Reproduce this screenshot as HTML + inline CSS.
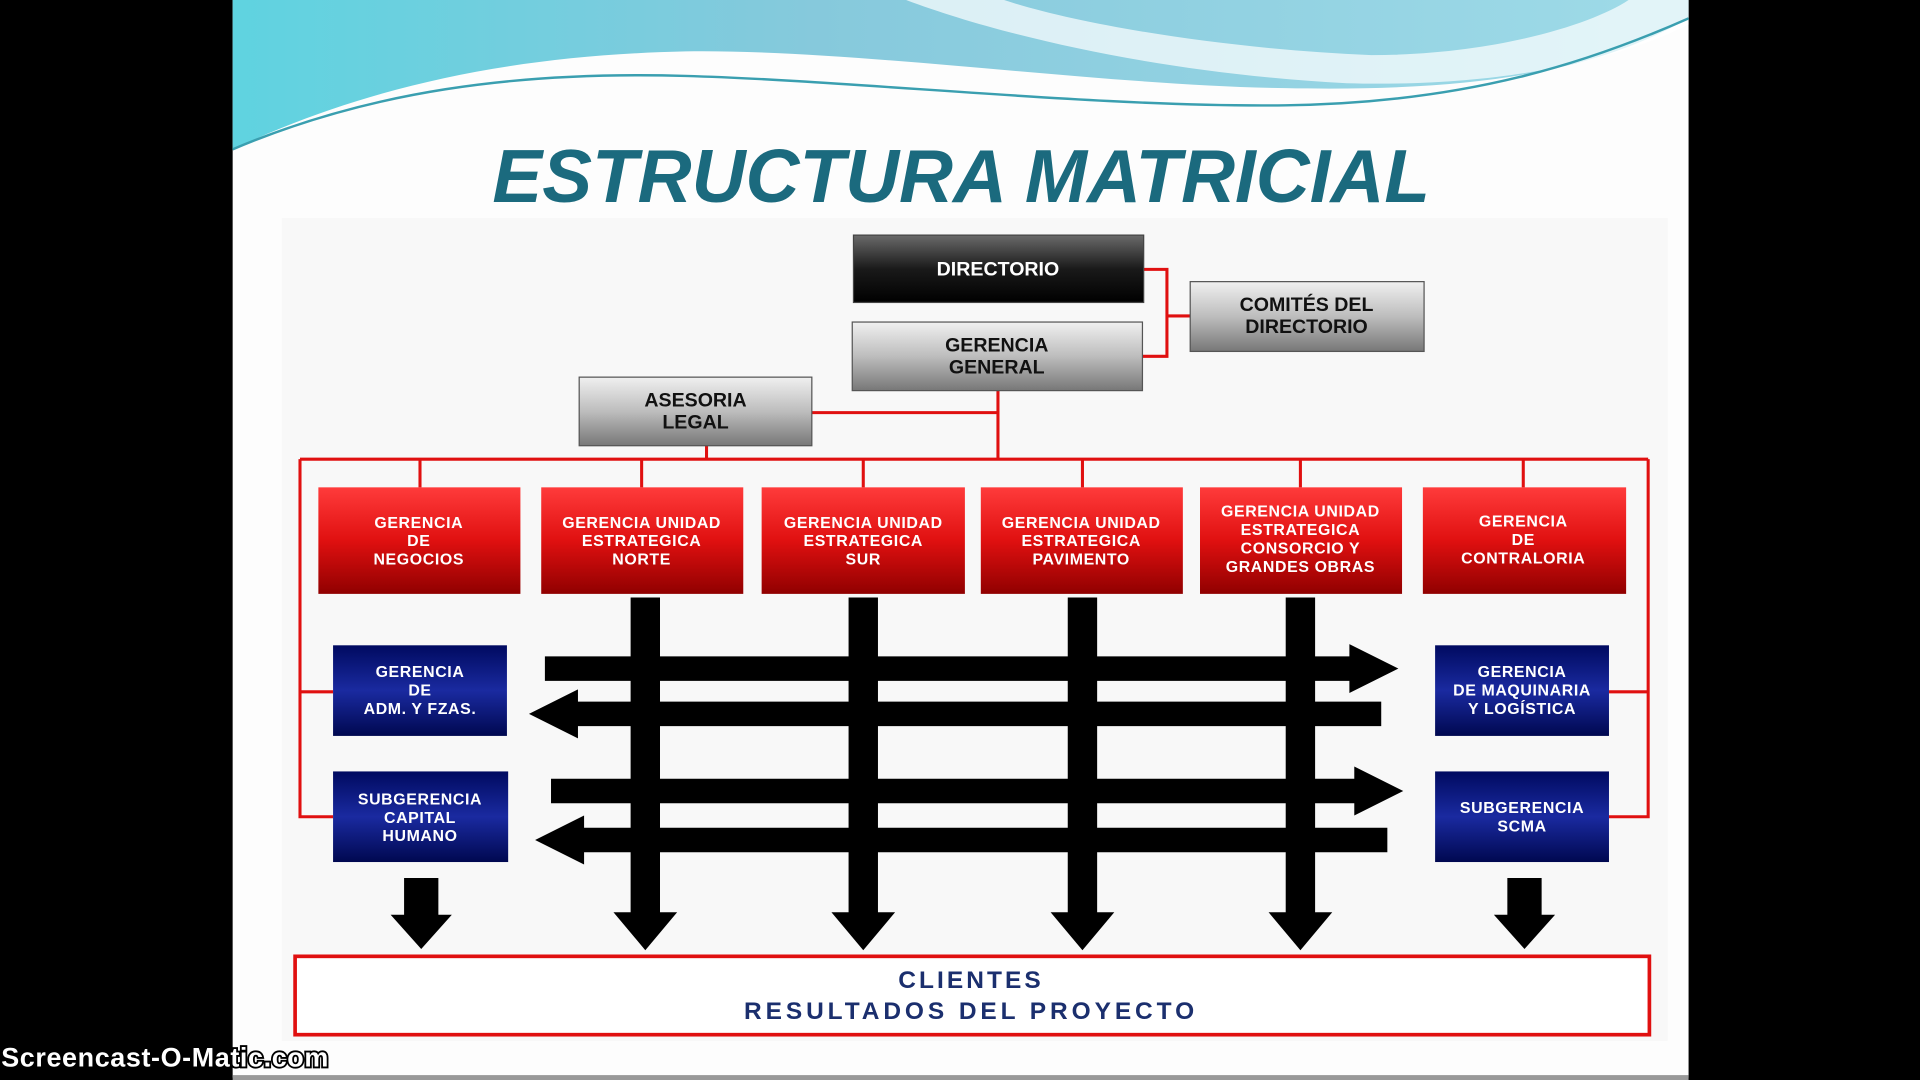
<!DOCTYPE html>
<html><head><meta charset="utf-8"><style>html,body{margin:0;padding:0;background:#000;width:1920px;height:1080px;overflow:hidden}svg{display:block}</style></head>
<body>
<svg width="1920" height="1080" viewBox="0 0 1568 882" xmlns="http://www.w3.org/2000/svg" font-family="Liberation Sans, sans-serif">
<defs>
<linearGradient id="sky" x1="0" y1="0" x2="1" y2="0"><stop offset="0" stop-color="#5fd3e0"/><stop offset="0.4" stop-color="#86c9dc"/><stop offset="1" stop-color="#9fdbe8"/></linearGradient>
<linearGradient id="dark" x1="0" y1="0" x2="0" y2="1"><stop offset="0" stop-color="#6a6a6a"/><stop offset="0.5" stop-color="#1a1a1a"/><stop offset="1" stop-color="#000"/></linearGradient>
<linearGradient id="gray" x1="0" y1="0" x2="0" y2="1"><stop offset="0" stop-color="#f0f0f0"/><stop offset="0.5" stop-color="#bdbdbd"/><stop offset="1" stop-color="#777"/></linearGradient>
<linearGradient id="red" x1="0" y1="0" x2="0" y2="1"><stop offset="0" stop-color="#ff3b3b"/><stop offset="0.5" stop-color="#e01010"/><stop offset="1" stop-color="#900000"/></linearGradient>
<linearGradient id="blue" x1="0" y1="0" x2="0" y2="1"><stop offset="0" stop-color="#000a60"/><stop offset="0.5" stop-color="#1a2aa0"/><stop offset="1" stop-color="#000850"/></linearGradient>
</defs>
<rect x="0" y="0" width="1568" height="882" fill="#000"/>
<rect x="190" y="0" width="1189" height="880" fill="#fdfdfd"/>
<path d="M190,0 H1379 V15 C1300,60 1200,75 1050,72 C900,70 700,40 560,42 C420,45 300,70 190,122 Z" fill="url(#sky)"/>
<path d="M740,0 C820,30 950,60 1100,68 C1250,72 1340,40 1379,20 V0 H1330 C1300,20 1220,45 1120,45 C1000,40 880,20 820,0 Z" fill="#ffffff" opacity="0.7"/>
<path d="M190,122 C300,75 420,58 560,62 C700,66 900,88 1050,86 C1200,84 1300,50 1379,15" fill="none" stroke="#3a9fb0" stroke-width="2"/>
<text x="785" y="165" text-anchor="middle" font-size="61" font-weight="bold" font-style="italic" fill="#1b6a7e">ESTRUCTURA MATRICIAL</text>
<rect x="230" y="178" width="1132" height="672" fill="#f8f8f8"/>
<g stroke="#e01010" stroke-width="2.5" fill="none">
<path d="M934,220 H953 V291 H933 M953,258 H972 M663,337 H815 M815,319 V375 M577,364 V375 M245,375 H1346 M343,375 V398 M524,375 V398 M705,375 V398 M884,375 V398 M1062,375 V398 M1244,375 V398 M245,375 V667 H272 M245,565 H272 M1346,375 V667 H1314 M1346,565 H1314"/>
</g>
<rect x="697" y="192" width="237" height="55" fill="url(#dark)" stroke="#444"/>
<text x="815" y="225" text-anchor="middle" font-size="16" font-weight="bold" fill="#fff">DIRECTORIO</text>
<rect x="696" y="263" width="237" height="56" fill="url(#gray)" stroke="#555"/>
<text x="814" y="287" text-anchor="middle" font-size="16" font-weight="bold" fill="#111">GERENCIA</text>
<text x="814" y="305" text-anchor="middle" font-size="16" font-weight="bold" fill="#111">GENERAL</text>
<rect x="972" y="230" width="191" height="57" fill="url(#gray)" stroke="#555"/>
<text x="1067" y="254" text-anchor="middle" font-size="16" font-weight="bold" fill="#111">COMITÉS DEL</text>
<text x="1067" y="272" text-anchor="middle" font-size="16" font-weight="bold" fill="#111">DIRECTORIO</text>
<rect x="473" y="308" width="190" height="56" fill="url(#gray)" stroke="#555"/>
<text x="568" y="332" text-anchor="middle" font-size="16" font-weight="bold" fill="#111">ASESORIA</text>
<text x="568" y="350" text-anchor="middle" font-size="16" font-weight="bold" fill="#111">LEGAL</text>
<g font-size="13" font-weight="bold" fill="#fff" text-anchor="middle" letter-spacing="0.5">
<rect x="260" y="398" width="165" height="87" fill="url(#red)"/>
<text x="342" y="431">GERENCIA</text><text x="342" y="446">DE</text><text x="342" y="461">NEGOCIOS</text>
<rect x="442" y="398" width="165" height="87" fill="url(#red)"/>
<text x="524" y="431">GERENCIA UNIDAD</text><text x="524" y="446">ESTRATEGICA</text><text x="524" y="461">NORTE</text>
<rect x="622" y="398" width="166" height="87" fill="url(#red)"/>
<text x="705" y="431">GERENCIA UNIDAD</text><text x="705" y="446">ESTRATEGICA</text><text x="705" y="461">SUR</text>
<rect x="801" y="398" width="165" height="87" fill="url(#red)"/>
<text x="883" y="431">GERENCIA UNIDAD</text><text x="883" y="446">ESTRATEGICA</text><text x="883" y="461">PAVIMENTO</text>
<rect x="980" y="398" width="165" height="87" fill="url(#red)"/>
<text x="1062" y="422">GERENCIA UNIDAD</text><text x="1062" y="437">ESTRATEGICA</text><text x="1062" y="452">CONSORCIO Y</text><text x="1062" y="467">GRANDES OBRAS</text>
<rect x="1162" y="398" width="166" height="87" fill="url(#red)"/>
<text x="1244" y="430">GERENCIA</text><text x="1244" y="445">DE</text><text x="1244" y="460">CONTRALORIA</text>
<rect x="272" y="527" width="142" height="74" fill="url(#blue)"/>
<text x="343" y="553">GERENCIA</text><text x="343" y="568">DE</text><text x="343" y="583">ADM. Y FZAS.</text>
<rect x="272" y="630" width="143" height="74" fill="url(#blue)"/>
<text x="343" y="657">SUBGERENCIA</text><text x="343" y="672">CAPITAL</text><text x="343" y="687">HUMANO</text>
<rect x="1172" y="527" width="142" height="74" fill="url(#blue)"/>
<text x="1243" y="553">GERENCIA</text><text x="1243" y="568">DE MAQUINARIA</text><text x="1243" y="583">Y LOGÍSTICA</text>
<rect x="1172" y="630" width="142" height="74" fill="url(#blue)"/>
<text x="1243" y="664">SUBGERENCIA</text><text x="1243" y="679">SCMA</text>
</g>
<g fill="#000">
<path d="M445,536 H1102 V526 L1142,546 L1102,566 V556 H445 Z"/>
<path d="M1128,573 H472 V563 L432,583 L472,603 V593 H1128 Z"/>
<path d="M450,636 H1106 V626 L1146,646 L1106,666 V656 H450 Z"/>
<path d="M1133,676 H477 V666 L437,686 L477,706 V696 H1133 Z"/>
<path d="M515,488 H539 V745 H553 L527,776 L501,745 H515 Z"/>
<path d="M693,488 H717 V745 H731 L705,776 L679,745 H693 Z"/>
<path d="M872,488 H896 V745 H910 L884,776 L858,745 H872 Z"/>
<path d="M1050,488 H1074 V745 H1088 L1062,776 L1036,745 H1050 Z"/>
<path d="M330,717 H358 V747 H369 L344,775 L319,747 H330 Z"/>
<path d="M1231,717 H1259 V747 H1270 L1245,775 L1220,747 H1231 Z"/>
</g>
<rect x="241" y="781" width="1106" height="64" fill="#fff" stroke="#e01010" stroke-width="3"/>
<text x="793" y="807" text-anchor="middle" font-size="20" font-weight="bold" fill="#1b2f6e" letter-spacing="2.5">CLIENTES</text>
<text x="793" y="832" text-anchor="middle" font-size="20" font-weight="bold" fill="#1b2f6e" letter-spacing="3.2">RESULTADOS DEL PROYECTO</text>
<rect x="190" y="878" width="1189" height="4" fill="#999"/>
<text x="1" y="871" font-size="22" font-weight="bold" fill="#fff" stroke="#000" stroke-width="3" paint-order="stroke" letter-spacing="0.5">Screencast-O-Matic.com</text>
</svg>
</body></html>
